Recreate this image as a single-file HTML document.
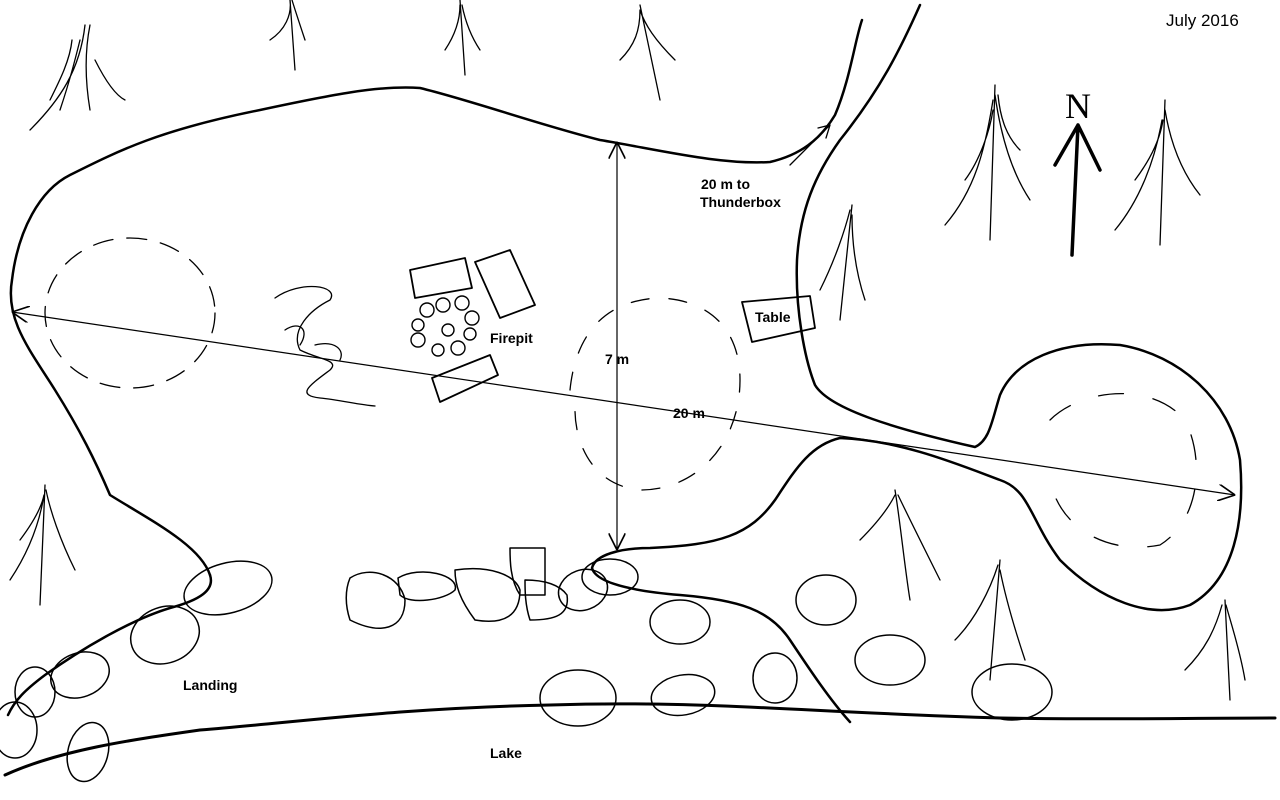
<!DOCTYPE html>
<html><head><meta charset="utf-8"><style>
html,body{margin:0;padding:0;background:#fff;}
svg{display:block}
text{font-family:"Liberation Sans",sans-serif;font-weight:bold;font-size:14px;fill:#000}
</style></head><body>
<svg width="1280" height="800" viewBox="0 0 1280 800" xmlns="http://www.w3.org/2000/svg">
<defs><marker id="ah" viewBox="0 0 10 10" refX="10" refY="5" markerWidth="14" markerHeight="14" orient="auto-start-reverse"><path d="M0,0 L10,5 L0,10" fill="none" stroke="#000" stroke-width="1"/></marker></defs>
<g fill="none" stroke="#000" stroke-linecap="round" stroke-linejoin="round">
<path stroke-width="2.5" d="M210,575 C200,545 150,520 110,495 C95,460 80,430 55,390 C30,350 5,320 12,280 C18,230 40,190 70,175 C120,150 160,130 260,110 C330,95 380,85 420,88 C470,100 540,125 600,140 C660,150 720,165 770,162 C800,155 820,140 835,115 C850,80 855,40 862,20"/>
<path stroke-width="2.5" d="M920,5 C900,50 880,90 840,140 C815,175 800,210 797,260 C795,310 805,360 815,385 C830,410 900,430 975,447 C990,440 992,420 1000,395 C1015,360 1060,340 1120,345 C1180,355 1230,400 1240,460 C1245,520 1235,580 1190,605 C1150,620 1100,600 1060,560 C1030,520 1030,490 1000,480 C960,465 900,440 840,438 C810,445 795,470 775,500 C750,535 720,545 650,548 C620,548 595,555 592,568 C595,580 620,590 680,595 C740,600 770,610 790,640 C810,670 830,700 850,722"/>
<path stroke-width="2.5" d="M210,575 C215,590 200,600 170,608 C130,620 80,650 45,675 C25,690 15,700 8,715"/>
<path stroke-width="3" d="M5,775 C60,750 130,740 200,730 C300,722 400,708 550,705 C700,700 800,712 1000,718 C1100,720 1200,718 1275,718"/>
<line x1="12" y1="312" x2="1235" y2="495" stroke-width="1.2" marker-start="url(#ah)" marker-end="url(#ah)"/>
<line x1="617" y1="142" x2="617" y2="550" stroke-width="1.2" marker-start="url(#ah)" marker-end="url(#ah)"/>
<ellipse cx="130" cy="313" rx="85" ry="75" stroke-width="1.3" stroke-dasharray="20,14"/>
<path stroke-width="1.3" stroke-dasharray="18,20" d="M570,390 C575,340 600,300 660,298 C710,300 740,330 740,380 C740,440 700,490 640,490 C590,485 575,440 575,410"/>
<path stroke-width="1.3" stroke-dasharray="25,30" d="M1050,420 C1080,390 1150,380 1185,420 C1205,460 1200,520 1160,545 C1110,555 1060,530 1050,480"/>
<path stroke-width="1.3" d="M275,298 C300,280 340,285 330,300 C310,310 290,330 300,350 C320,360 340,360 330,370 C310,385 295,395 320,398 C340,400 360,405 375,406 M285,330 C300,320 310,330 300,345 M315,345 C335,340 345,350 340,360"/>
<path stroke-width="1.8" d="M410,270 L465,258 L472,288 L415,298 Z"/>
<path stroke-width="1.8" d="M475,262 L510,250 L535,305 L500,318 Z"/>
<path stroke-width="1.8" d="M432,378 L490,355 L498,375 L440,402 Z"/>
<g stroke-width="1.4">
<circle cx="427" cy="310" r="7"/><circle cx="443" cy="305" r="7"/><circle cx="462" cy="303" r="7"/><circle cx="472" cy="318" r="7"/>
<circle cx="470" cy="334" r="6"/><circle cx="458" cy="348" r="7"/><circle cx="438" cy="350" r="6"/><circle cx="418" cy="340" r="7"/>
<circle cx="418" cy="325" r="6"/><circle cx="448" cy="330" r="6"/>
</g>
<path stroke-width="1.8" d="M742,302 L810,296 L815,328 L752,342 Z"/>
<path stroke-width="1.3" d="M790,165 L830,125 M818,128 L830,125 L826,138"/>
<path stroke-width="3.5" d="M1072,255 L1078,125 M1055,165 L1078,125 L1100,170"/>
<g stroke-width="1.3">
<path d="M30,130 C60,100 80,70 85,25 M60,110 C70,80 75,60 80,40 M90,110 C85,80 85,50 90,25 M95,60 C105,80 115,95 125,100 M50,100 C60,80 70,60 72,40"/>
<path d="M295,70 L290,0 M270,40 C285,30 292,15 290,0 M305,40 C300,25 295,10 292,0"/>
<path d="M465,75 L460,0 M445,50 C455,35 460,20 460,5 M480,50 C470,35 465,20 462,5"/>
<path d="M660,100 L640,5 M620,60 C635,45 640,30 640,10 M675,60 C655,40 645,25 640,10"/>
<path d="M990,240 L995,85 M945,225 C975,190 985,150 993,100 M1030,200 C1010,170 1000,130 995,95 M965,180 C980,160 990,130 993,110 M1020,150 C1005,135 1000,115 998,95"/>
<path d="M1160,245 L1165,100 M1115,230 C1140,200 1155,160 1162,120 M1200,195 C1180,170 1170,140 1165,110 M1135,180 C1150,160 1160,140 1163,120"/>
<path d="M840,320 L852,205 M820,290 C835,260 845,230 850,210 M865,300 C855,270 852,240 852,215"/>
<path d="M40,605 L45,485 M10,580 C30,550 40,520 44,495 M75,570 C60,540 50,510 46,490 M20,540 C35,520 42,505 44,495"/>
<path d="M910,600 C905,570 900,520 895,490 M860,540 C880,520 890,505 895,495 M940,580 C925,550 910,520 898,495"/>
<path d="M990,680 L1000,560 M955,640 C975,620 990,590 998,565 M1025,660 C1015,630 1005,595 1000,570"/>
<path d="M1230,700 L1225,600 M1185,670 C1205,650 1215,630 1222,605 M1245,680 C1240,650 1230,620 1226,605"/>
</g>
<g stroke-width="1.5">
<ellipse cx="228" cy="588" rx="45" ry="25" transform="rotate(-15 228 588)"/>
<ellipse cx="165" cy="635" rx="35" ry="28" transform="rotate(-20 165 635)"/>
<ellipse cx="80" cy="675" rx="30" ry="22" transform="rotate(-20 80 675)"/>
<ellipse cx="35" cy="692" rx="20" ry="25"/>
<ellipse cx="15" cy="730" rx="22" ry="28"/>
<ellipse cx="88" cy="752" rx="30" ry="20" transform="rotate(-75 88 752)"/>
<path d="M350,578 C370,565 400,575 405,600 C405,630 380,635 350,620 C345,605 345,590 350,578 Z"/>
<path d="M398,578 C420,565 460,575 455,590 C445,600 410,605 400,595 Z"/>
<path d="M455,570 C490,565 515,575 520,590 C520,615 505,625 475,620 C460,600 455,585 455,570 Z"/>
<path d="M510,548 L545,548 L545,595 L520,595 C510,580 510,560 510,548 Z"/>
<path d="M525,580 C545,580 560,585 567,595 C570,615 555,620 530,620 C525,605 525,590 525,580 Z"/>
<ellipse cx="583" cy="590" rx="25" ry="20" transform="rotate(-20 583 590)"/>
<ellipse cx="610" cy="577" rx="28" ry="18"/>
<ellipse cx="680" cy="622" rx="30" ry="22"/>
<ellipse cx="578" cy="698" rx="38" ry="28"/>
<ellipse cx="683" cy="695" rx="32" ry="20" transform="rotate(-10 683 695)"/>
<ellipse cx="775" cy="678" rx="22" ry="25"/>
<ellipse cx="826" cy="600" rx="30" ry="25"/>
<ellipse cx="890" cy="660" rx="35" ry="25"/>
<ellipse cx="1012" cy="692" rx="40" ry="28"/>
</g>
</g>
<text x="1166" y="26" style="font-weight:normal;font-size:17px">July 2016</text>
<text x="1065" y="118" style="font-family:'Liberation Serif',serif;font-weight:normal;font-size:36px">N</text>
<text x="701" y="189">20 m to</text>
<text x="700" y="207">Thunderbox</text>
<text x="490" y="343">Firepit</text>
<text x="605" y="364">7 m</text>
<text x="755" y="322">Table</text>
<text x="673" y="418">20 m</text>
<text x="183" y="690">Landing</text>
<text x="490" y="758">Lake</text>
</svg>
</body></html>
